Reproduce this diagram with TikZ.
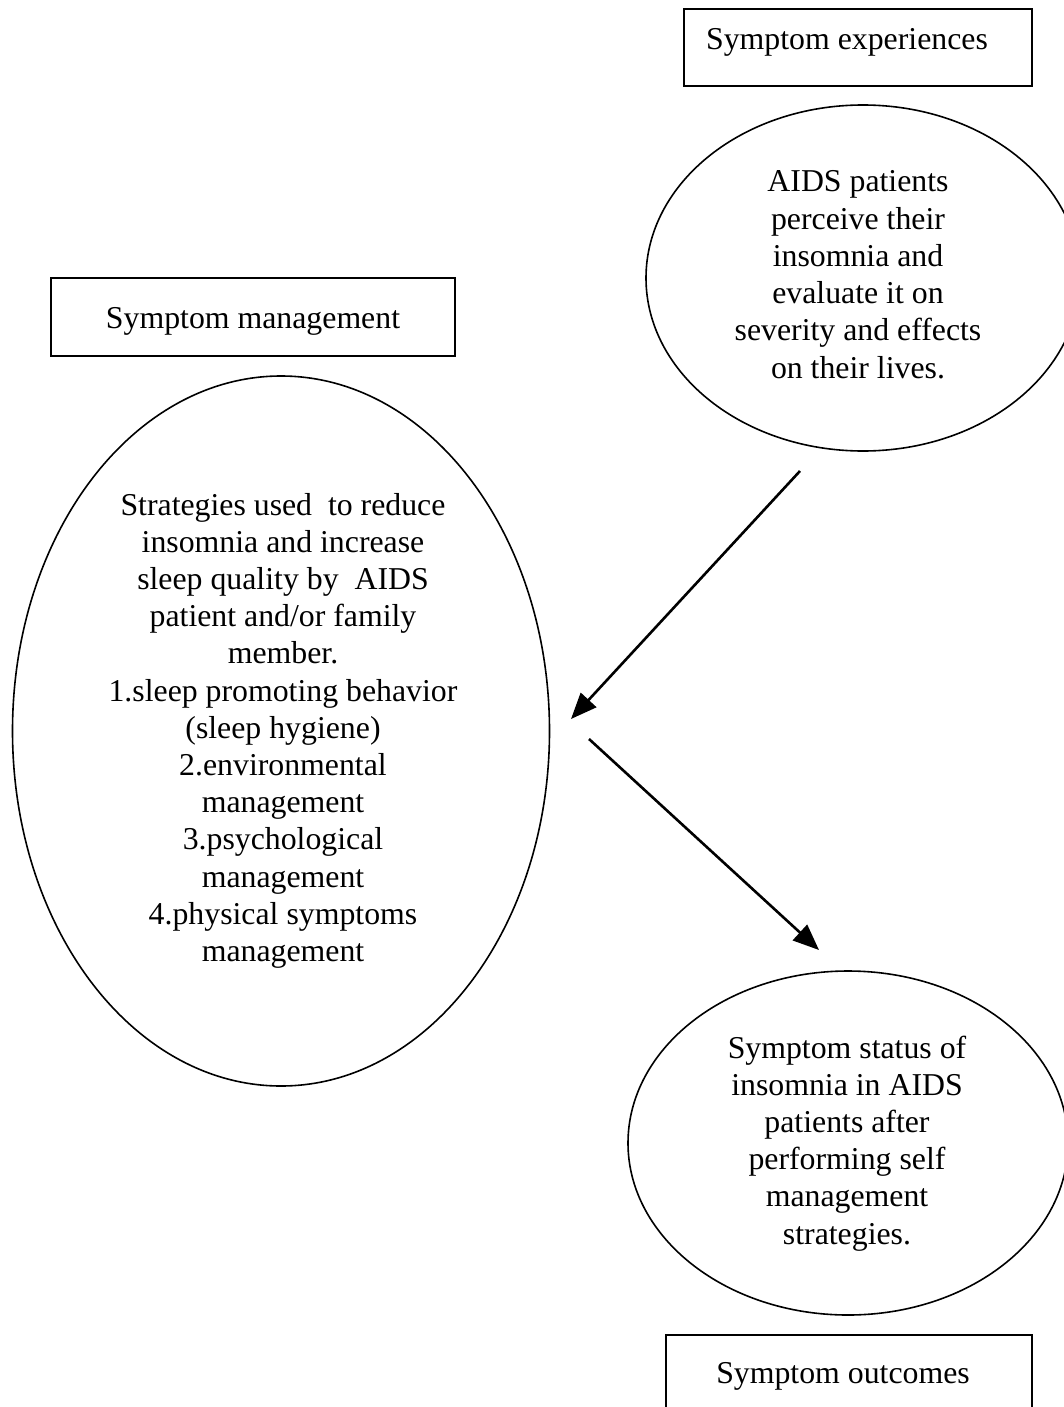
\documentclass[tikz,border=0pt]{standalone}
\usepackage{fontspec}
\setmainfont{Liberation Serif}
\usetikzlibrary{arrows.meta}
\begin{document}
\begin{tikzpicture}[x=1pt,y=-1pt,
  every node/.style={font=\fontsize{31.8}{37.2}\selectfont},
  boxshape/.style={draw,line width=2pt},
  ellline/.style={line width=1.6pt},
  txt/.style={anchor=base,align=flush center,inner sep=0pt},
  arr/.style={line width=2.6pt,-{Triangle[length=26pt,width=21pt]}}]
\useasboundingbox (0,0) rectangle (1063,1407);
% boxes
\draw[boxshape] (684,9) rectangle (1032,86);
\node[txt] (texp) at (847,50) {Symptom experiences};
\draw[boxshape] (51,278) rectangle (455,356);
\node[txt] (tman) at (253,328) {Symptom management};
\draw[boxshape] (666,1335) rectangle (1032,1430);
\node[txt] (tout) at (843,1383) {Symptom outcomes};
% ellipses
\draw[ellline] (863,278) ellipse [x radius=217, y radius=173];
\node[txt,text width=420pt] (eexp) at (858,192) {AIDS patients\\perceive their\\insomnia and\\evaluate it on\\severity and effects\\on their lives.};
\draw[ellline] (281,731) ellipse [x radius=268.5, y radius=355];
\node[txt,text width=520pt] (eman) at (283,515) {Strategies used\ \ to reduce\\insomnia and increase\\sleep quality by\ \ AIDS\\patient and/or family\\member.\\1.sleep promoting behavior\\(sleep hygiene)\\2.environmental\\management\\3.psychological\\management\\4.physical symptoms\\management};
\draw[ellline] (848,1143) ellipse [x radius=220, y radius=172];
\node[txt,text width=420pt] (eout) at (847,1058) {Symptom status of\\insomnia in AIDS\\patients after\\performing self\\management\\strategies.};
% arrows
\coordinate (a1s) at (800,471);
\coordinate (a1e) at (571,719);
\coordinate (a2s) at (589,739);
\coordinate (a2e) at (819,950);
\draw[arr] (a1s) -- (a1e);
\draw[arr] (a2s) -- (a2e);
\end{tikzpicture}
\end{document}
